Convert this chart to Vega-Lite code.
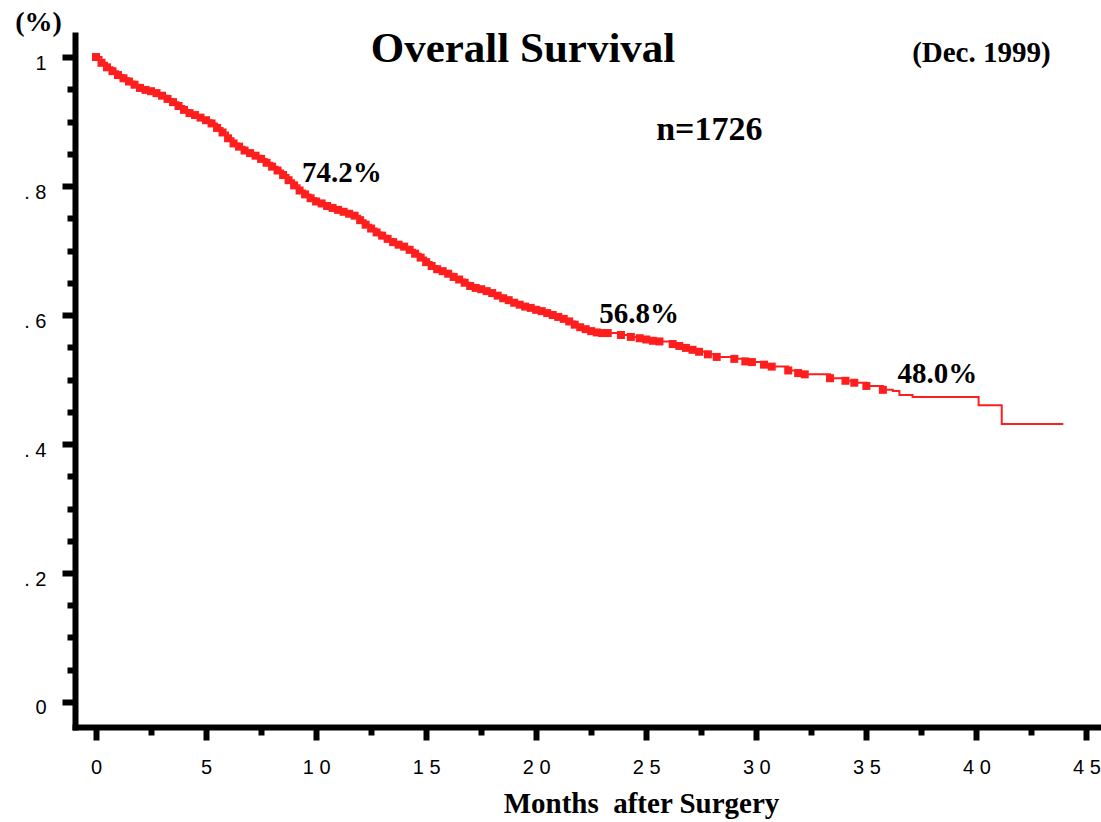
{
  "$schema": "https://vega.github.io/schema/vega-lite/v6.json",
  "autosize": {"type": "none"},
  "padding": {"left": 75, "top": 35, "right": 0, "bottom": 95},
  "width": 1026,
  "height": 692,
  "background": "white",
  "config": {"view": {"stroke": null}},
  "datasets": {
    "km": [
      {"month": 0.00, "surv": 1.000, "censored": true},
      {"month": 0.25, "surv": 0.991, "censored": true},
      {"month": 0.50, "surv": 0.984, "censored": true},
      {"month": 0.75, "surv": 0.978, "censored": true},
      {"month": 1.00, "surv": 0.972, "censored": true},
      {"month": 1.25, "surv": 0.967, "censored": true},
      {"month": 1.50, "surv": 0.962, "censored": true},
      {"month": 1.75, "surv": 0.957, "censored": true},
      {"month": 2.00, "surv": 0.952, "censored": true},
      {"month": 2.25, "surv": 0.949, "censored": true},
      {"month": 2.50, "surv": 0.947, "censored": true},
      {"month": 2.75, "surv": 0.944, "censored": true},
      {"month": 3.00, "surv": 0.940, "censored": true},
      {"month": 3.25, "surv": 0.935, "censored": true},
      {"month": 3.50, "surv": 0.930, "censored": true},
      {"month": 3.75, "surv": 0.924, "censored": true},
      {"month": 4.00, "surv": 0.918, "censored": true},
      {"month": 4.25, "surv": 0.913, "censored": true},
      {"month": 4.50, "surv": 0.910, "censored": true},
      {"month": 4.75, "surv": 0.906, "censored": true},
      {"month": 5.00, "surv": 0.902, "censored": true},
      {"month": 5.25, "surv": 0.897, "censored": true},
      {"month": 5.50, "surv": 0.890, "censored": true},
      {"month": 5.75, "surv": 0.883, "censored": true},
      {"month": 6.00, "surv": 0.874, "censored": true},
      {"month": 6.25, "surv": 0.866, "censored": true},
      {"month": 6.50, "surv": 0.861, "censored": true},
      {"month": 6.75, "surv": 0.855, "censored": true},
      {"month": 7.00, "surv": 0.851, "censored": true},
      {"month": 7.25, "surv": 0.847, "censored": true},
      {"month": 7.50, "surv": 0.842, "censored": true},
      {"month": 7.75, "surv": 0.836, "censored": true},
      {"month": 8.00, "surv": 0.830, "censored": true},
      {"month": 8.25, "surv": 0.824, "censored": true},
      {"month": 8.50, "surv": 0.817, "censored": true},
      {"month": 8.75, "surv": 0.809, "censored": true},
      {"month": 9.00, "surv": 0.801, "censored": true},
      {"month": 9.25, "surv": 0.793, "censored": true},
      {"month": 9.50, "surv": 0.787, "censored": true},
      {"month": 9.75, "surv": 0.781, "censored": true},
      {"month": 10.00, "surv": 0.776, "censored": true},
      {"month": 10.25, "surv": 0.773, "censored": true},
      {"month": 10.50, "surv": 0.769, "censored": true},
      {"month": 10.75, "surv": 0.766, "censored": true},
      {"month": 11.00, "surv": 0.763, "censored": true},
      {"month": 11.25, "surv": 0.760, "censored": true},
      {"month": 11.50, "surv": 0.757, "censored": true},
      {"month": 11.75, "surv": 0.754, "censored": true},
      {"month": 12.00, "surv": 0.747, "censored": true},
      {"month": 12.25, "surv": 0.740, "censored": true},
      {"month": 12.50, "surv": 0.734, "censored": true},
      {"month": 12.75, "surv": 0.728, "censored": true},
      {"month": 13.00, "surv": 0.723, "censored": true},
      {"month": 13.25, "surv": 0.718, "censored": true},
      {"month": 13.50, "surv": 0.713, "censored": true},
      {"month": 13.75, "surv": 0.709, "censored": true},
      {"month": 14.00, "surv": 0.706, "censored": true},
      {"month": 14.25, "surv": 0.701, "censored": true},
      {"month": 14.50, "surv": 0.695, "censored": true},
      {"month": 14.75, "surv": 0.689, "censored": true},
      {"month": 15.00, "surv": 0.682, "censored": true},
      {"month": 15.25, "surv": 0.676, "censored": true},
      {"month": 15.50, "surv": 0.671, "censored": true},
      {"month": 15.75, "surv": 0.668, "censored": true},
      {"month": 16.00, "surv": 0.664, "censored": true},
      {"month": 16.25, "surv": 0.659, "censored": true},
      {"month": 16.50, "surv": 0.655, "censored": true},
      {"month": 16.75, "surv": 0.650, "censored": true},
      {"month": 17.00, "surv": 0.645, "censored": true},
      {"month": 17.25, "surv": 0.642, "censored": true},
      {"month": 17.50, "surv": 0.640, "censored": true},
      {"month": 17.75, "surv": 0.637, "censored": true},
      {"month": 18.00, "surv": 0.634, "censored": true},
      {"month": 18.25, "surv": 0.630, "censored": true},
      {"month": 18.50, "surv": 0.626, "censored": true},
      {"month": 18.75, "surv": 0.623, "censored": true},
      {"month": 19.00, "surv": 0.619, "censored": true},
      {"month": 19.25, "surv": 0.616, "censored": true},
      {"month": 19.50, "surv": 0.613, "censored": true},
      {"month": 19.75, "surv": 0.611, "censored": true},
      {"month": 20.00, "surv": 0.608, "censored": true},
      {"month": 20.25, "surv": 0.606, "censored": true},
      {"month": 20.50, "surv": 0.603, "censored": true},
      {"month": 20.75, "surv": 0.600, "censored": true},
      {"month": 21.00, "surv": 0.597, "censored": true},
      {"month": 21.25, "surv": 0.594, "censored": true},
      {"month": 21.50, "surv": 0.590, "censored": true},
      {"month": 21.75, "surv": 0.585, "censored": true},
      {"month": 22.00, "surv": 0.581, "censored": true},
      {"month": 22.25, "surv": 0.578, "censored": true},
      {"month": 22.50, "surv": 0.575, "censored": true},
      {"month": 22.75, "surv": 0.573, "censored": true},
      {"month": 23.00, "surv": 0.572, "censored": true},
      {"month": 23.25, "surv": 0.572, "censored": true},
      {"month": 23.85, "surv": 0.569, "censored": true},
      {"month": 24.30, "surv": 0.566, "censored": true},
      {"month": 24.70, "surv": 0.564, "censored": true},
      {"month": 25.00, "surv": 0.562, "censored": true},
      {"month": 25.30, "surv": 0.560, "censored": true},
      {"month": 25.60, "surv": 0.559, "censored": true},
      {"month": 26.20, "surv": 0.555, "censored": true},
      {"month": 26.50, "surv": 0.552, "censored": true},
      {"month": 26.80, "surv": 0.549, "censored": true},
      {"month": 27.10, "surv": 0.546, "censored": true},
      {"month": 27.40, "surv": 0.543, "censored": true},
      {"month": 27.80, "surv": 0.539, "censored": true},
      {"month": 28.20, "surv": 0.535, "censored": true},
      {"month": 29.00, "surv": 0.532, "censored": true},
      {"month": 29.50, "surv": 0.528, "censored": true},
      {"month": 29.80, "surv": 0.527, "censored": true},
      {"month": 30.35, "surv": 0.523, "censored": true},
      {"month": 30.70, "surv": 0.520, "censored": true},
      {"month": 31.45, "surv": 0.514, "censored": true},
      {"month": 31.90, "surv": 0.510, "censored": true},
      {"month": 32.20, "surv": 0.508, "censored": true},
      {"month": 33.35, "surv": 0.502, "censored": true},
      {"month": 34.05, "surv": 0.498, "censored": true},
      {"month": 34.45, "surv": 0.495, "censored": true},
      {"month": 35.00, "surv": 0.490, "censored": true},
      {"month": 35.75, "surv": 0.484, "censored": true},
      {"month": 36.20, "surv": 0.482, "censored": false},
      {"month": 36.50, "surv": 0.476, "censored": false},
      {"month": 37.10, "surv": 0.473, "censored": false},
      {"month": 40.10, "surv": 0.460, "censored": false},
      {"month": 41.15, "surv": 0.431, "censored": false},
      {"month": 43.95, "surv": 0.431, "censored": false}
    ]
  },
  "encoding": {
    "x": {
      "field": "month",
      "type": "quantitative",
      "scale": {"domain": [-0.954, 45.66], "nice": false, "zero": false},
      "axis": {
        "values": [0, 2.5, 5, 7.5, 10, 12.5, 15, 17.5, 20, 22.5, 25, 27.5, 30, 32.5, 35, 37.5, 40, 42.5, 45],
        "grid": false,
        "domainColor": "black",
        "domainWidth": 6,
        "domainCap": "square",
        "tickColor": "black",
        "tickWidth": 6,
        "tickSize": 13,
        "tickDash": {"condition": {"test": "datum.value % 5 !== 0", "value": [8, 30]}, "value": [40, 0]},
        "labelExpr": "datum.value % 5 === 0 ? join(split(toString(datum.value), ''), ' ') : ''",
        "labelFont": "Liberation Sans",
        "labelFontSize": 20,
        "labelColor": "black",
        "labelPadding": 17,
        "labelFlush": false,
        "labelOverlap": false,
        "title": "Months\u00a0 after Surgery",
        "titleFont": "Liberation Serif",
        "titleFontSize": 29,
        "titleFontWeight": "bold",
        "titleColor": "black",
        "titleX": 566,
        "titleY": 85,
        "titleAlign": "center",
        "titleBaseline": "alphabetic"
      }
    },
    "y": {
      "field": "surv",
      "type": "quantitative",
      "scale": {"domain": [-0.03876, 1.03411], "nice": false, "zero": false},
      "axis": {
        "values": [0, 0.05, 0.1, 0.15, 0.2, 0.25, 0.3, 0.35, 0.4, 0.45, 0.5, 0.55, 0.6, 0.65, 0.7, 0.75, 0.8, 0.85, 0.9, 0.95, 1],
        "grid": false,
        "domainColor": "black",
        "domainWidth": 6,
        "domainCap": "square",
        "tickColor": "black",
        "tickWidth": 6,
        "tickSize": 13,
        "tickDash": {"condition": {"test": "abs(datum.value * 5 - round(datum.value * 5)) > 0.001", "value": [8, 30]}, "value": [40, 0]},
        "labelExpr": "datum.value === 0 ? '0' : datum.value === 1 ? '1' : abs(datum.value * 5 - round(datum.value * 5)) < 0.001 ? '. ' + round(datum.value * 10) : ''",
        "labelFont": "Liberation Sans",
        "labelFontSize": 20,
        "labelColor": "black",
        "labelPadding": 16,
        "labelOffset": 6,
        "labelFlush": false,
        "labelOverlap": false,
        "title": "(%)",
        "titleFont": "Liberation Serif",
        "titleFontSize": 28,
        "titleFontWeight": "bold",
        "titleColor": "black",
        "titleAngle": 0,
        "titleX": -37,
        "titleY": -5,
        "titleAlign": "center",
        "titleBaseline": "alphabetic"
      }
    }
  },
  "layer": [
    {
      "data": {"name": "km"},
      "mark": {"type": "line", "interpolate": "step-after", "color": "#ff1e1e", "strokeWidth": 2},
      "encoding": {"order": {"field": "month", "type": "quantitative"}}
    },
    {
      "data": {"name": "km"},
      "transform": [{"filter": "datum.censored"}],
      "mark": {"type": "point", "shape": "square", "filled": true, "size": 64, "color": "#ff1e1e", "opacity": 1, "strokeWidth": 0}
    },
    {
      "data": {"values": [
        {"month": 9.36, "surv": 0.806, "text": "74.2%"},
        {"month": 22.86, "surv": 0.588, "text": "56.8%"},
        {"month": 36.41, "surv": 0.495, "text": "48.0%"}
      ]},
      "mark": {"type": "text", "align": "left", "baseline": "alphabetic", "font": "Liberation Serif", "fontWeight": "bold", "fontSize": 29, "color": "black"},
      "encoding": {"text": {"field": "text"}}
    },
    {
      "data": {"values": [{"month": 25.45, "surv": 0.871, "text": "n=1726"}]},
      "mark": {"type": "text", "align": "left", "baseline": "alphabetic", "font": "Liberation Serif", "fontWeight": "bold", "fontSize": 34, "color": "black"},
      "encoding": {"text": {"field": "text"}}
    },
    {
      "data": {"values": [{"month": 37.08, "surv": 0.992, "text": "(Dec. 1999)"}]},
      "mark": {"type": "text", "align": "left", "baseline": "alphabetic", "font": "Liberation Serif", "fontWeight": "bold", "fontSize": 29, "color": "black"},
      "encoding": {"text": {"field": "text"}}
    },
    {
      "data": {"values": [{"month": 19.40, "surv": 0.992, "text": "Overall Survival"}]},
      "mark": {"type": "text", "align": "center", "baseline": "alphabetic", "font": "Liberation Serif", "fontWeight": "bold", "fontSize": 43, "color": "black"},
      "encoding": {"text": {"field": "text"}}
    }
  ]
}
